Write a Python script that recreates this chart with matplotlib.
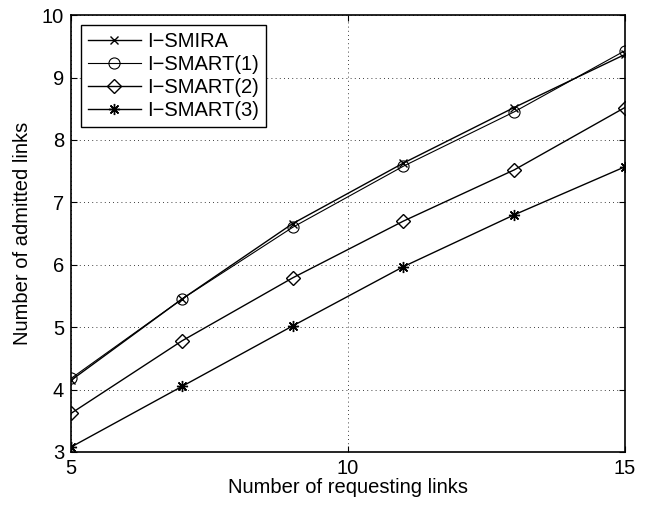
import matplotlib
matplotlib.use('Agg')
import matplotlib.pyplot as plt

plt.rcParams['font.family'] = ['Liberation Sans', 'DejaVu Sans']

x = [5, 7, 9, 11, 13, 15]
smira = [4.15, 5.45, 6.66, 7.63, 8.52, 9.37]
smart1 = [4.18, 5.45, 6.60, 7.58, 8.45, 9.43]
smart2 = [3.62, 4.78, 5.79, 6.70, 7.52, 8.52]
smart3 = [3.08, 4.05, 5.02, 5.97, 6.80, 7.57]

fs = 14.5

fig = plt.figure(figsize=(6.53, 5.05), dpi=100)
ax = fig.add_axes([0.109, 0.105, 0.848, 0.865])

ax.plot(x, smira, 'k-x', lw=1, ms=6, mew=1, label='I\u2212SMIRA')
ax.plot(x, smart1, 'k-o', lw=0.8, ms=8, mew=0.8, mfc='none', label='I\u2212SMART(1)')
ax.plot(x, smart2, 'k-', marker='D', lw=1, ms=7, mew=1, mfc='none', label='I\u2212SMART(2)')
ax.plot(x, smart3, 'k-', marker=(8, 2, 0), lw=1, ms=8, mew=1, label='I\u2212SMART(3)')

ax.set_xlim(5, 15)
ax.set_ylim(3, 10)
ax.set_xticks([5, 10, 15])
ax.set_yticks(range(3, 11))
ax.grid(True, ls=(0, (1, 4)), color='k', lw=0.6)
ax.tick_params(direction='in', labelsize=fs, top=True, right=True, length=4, pad=5)
for s in ax.spines.values():
    s.set_linewidth(1.2)

ax.set_xlabel('Number of requesting links', fontsize=fs, labelpad=0)
ax.set_ylabel('Number of admitted links', fontsize=fs, labelpad=7)

leg = ax.legend(loc='upper left', fontsize=fs, fancybox=False, framealpha=1,
                edgecolor='k', borderaxespad=0.5, handlelength=2.6,
                handletextpad=0.3, labelspacing=0.2, borderpad=0.35)
leg.get_frame().set_linewidth(1)

fig.savefig('out.png', dpi=100)
